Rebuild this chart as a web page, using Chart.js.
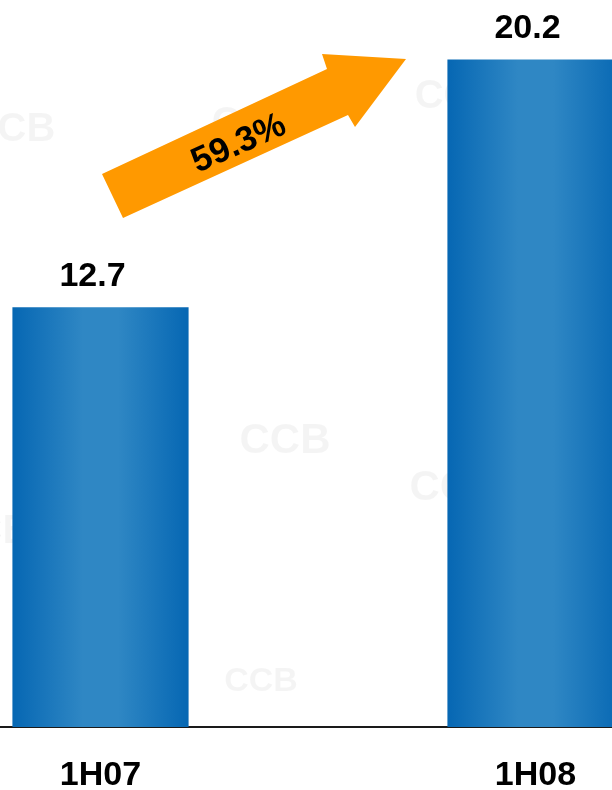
<!DOCTYPE html>
<html>
<head>
<meta charset="utf-8">
<script src="https://cdn.jsdelivr.net/npm/chart.js@4.4.0/dist/chart.umd.min.js"></script>
<style>
  html, body { margin: 0; padding: 0; width: 612px; height: 790px; overflow: hidden; background: #fff; }
  #chart { position: absolute; left: -117px; top: 0; }
</style>
</head>
<body>
<canvas id="chart" width="870" height="790"></canvas>
<script>
// data
const categories = ['1H07', '1H08'];
const values = [12.7, 20.2];
const valueLabels = ['12.7', '20.2'];
const growthLabel = '59.3%';
const yMax = 22;

const SHIFT = 117; // canvas is shifted left, page x -> canvas x
const BAR_PCT = 0.405;
const FONT = '"Liberation Sans", Arial, sans-serif';

function barGradient(ctx) {
    const chart = ctx.chart;
    const x = chart.scales.x;
    if (!x || ctx.type !== 'data') return '#1d78bd';
    const c = x.getPixelForValue(ctx.dataIndex);
    const half = (x.getPixelForValue(1) - x.getPixelForValue(0)) * BAR_PCT / 2;
    if (!Number.isFinite(c) || !Number.isFinite(half) || half <= 0) return '#1d78bd';
    const g = chart.ctx.createLinearGradient(c - half, 0, c + half, 0);
    g.addColorStop(0, '#0667b3');
    g.addColorStop(0.4, '#2f87c4');
    g.addColorStop(0.6, '#2f87c4');
    g.addColorStop(1, '#0667b3');
    return g;
}

// faint "CCB" watermarks behind the bars
const watermarks = [
    { text: 'CCB', x: 12, y: 130, size: 40 },
    { text: 'CCB', x: 285, y: 441, size: 42 },
    { text: 'CCB', x: 261, y: 682, size: 34 },
    { text: 'CCB', x: 458, y: 97, size: 40 },
    { text: 'CCB', x: 455, y: 488, size: 42 },
    { text: 'CCB', x: 255, y: 124, size: 40 },
    { text: 'CCB', x: -12, y: 532, size: 40 }
];

const watermarkPlugin = {
    id: 'watermarks',
    beforeDatasetsDraw(chart) {
        const ctx = chart.ctx;
        ctx.save();
        ctx.fillStyle = 'rgba(0, 0, 0, 0.045)';
        ctx.textAlign = 'center';
        ctx.textBaseline = 'middle';
        watermarks.forEach(w => {
            ctx.font = 'bold ' + w.size + 'px ' + FONT;
            ctx.fillText(w.text, w.x + SHIFT, w.y);
        });
        ctx.restore();
    }
};

// value labels above bars + growth arrow
const labelPlugin = {
    id: 'valueLabels',
    afterDatasetsDraw(chart) {
        const ctx = chart.ctx;
        const meta = chart.getDatasetMeta(0);
        ctx.save();
        ctx.fillStyle = '#000';
        ctx.font = 'bold 34px ' + FONT;
        ctx.textAlign = 'center';
        ctx.textBaseline = 'middle';
        meta.data.forEach((bar, i) => {
            ctx.fillText(valueLabels[i], bar.x - 8, bar.y - 31);
        });

        // arrow
        const pts = [[102, 174], [327, 69], [322, 54], [406, 59], [355, 127], [348, 115], [123, 218]];
        ctx.fillStyle = '#ff9900';
        ctx.beginPath();
        pts.forEach((p, i) => {
            if (i === 0) ctx.moveTo(p[0] + SHIFT, p[1]);
            else ctx.lineTo(p[0] + SHIFT, p[1]);
        });
        ctx.closePath();
        ctx.fill();

        ctx.translate(239 + SHIFT, 144);
        ctx.rotate(-24 * Math.PI / 180);
        ctx.fillStyle = '#000';
        ctx.font = 'bold 35px ' + FONT;
        ctx.fillText(growthLabel, 0, 0);
        ctx.restore();
    }
};

new Chart(document.getElementById('chart').getContext('2d'), {
    type: 'bar',
    data: {
        labels: categories,
        datasets: [{
            data: values,
            backgroundColor: barGradient,
            borderWidth: 0,
            barPercentage: BAR_PCT,
            categoryPercentage: 1
        }]
    },
    options: {
        responsive: false,
        animation: false,
        layout: { padding: 0 },
        scales: {
            x: {
                grid: { display: false, drawTicks: false },
                border: { display: true, color: '#1a1a1a', width: 2 },
                ticks: {
                    color: '#000',
                    padding: 28,
                    font: { family: FONT, size: 34, weight: 'bold' }
                },
                afterFit(axis) { axis.height = 63; }
            },
            y: {
                display: false,
                min: 0,
                max: yMax
            }
        },
        plugins: {
            legend: { display: false },
            tooltip: { enabled: false }
        }
    },
    plugins: [watermarkPlugin, labelPlugin]
});
</script>
</body>
</html>
